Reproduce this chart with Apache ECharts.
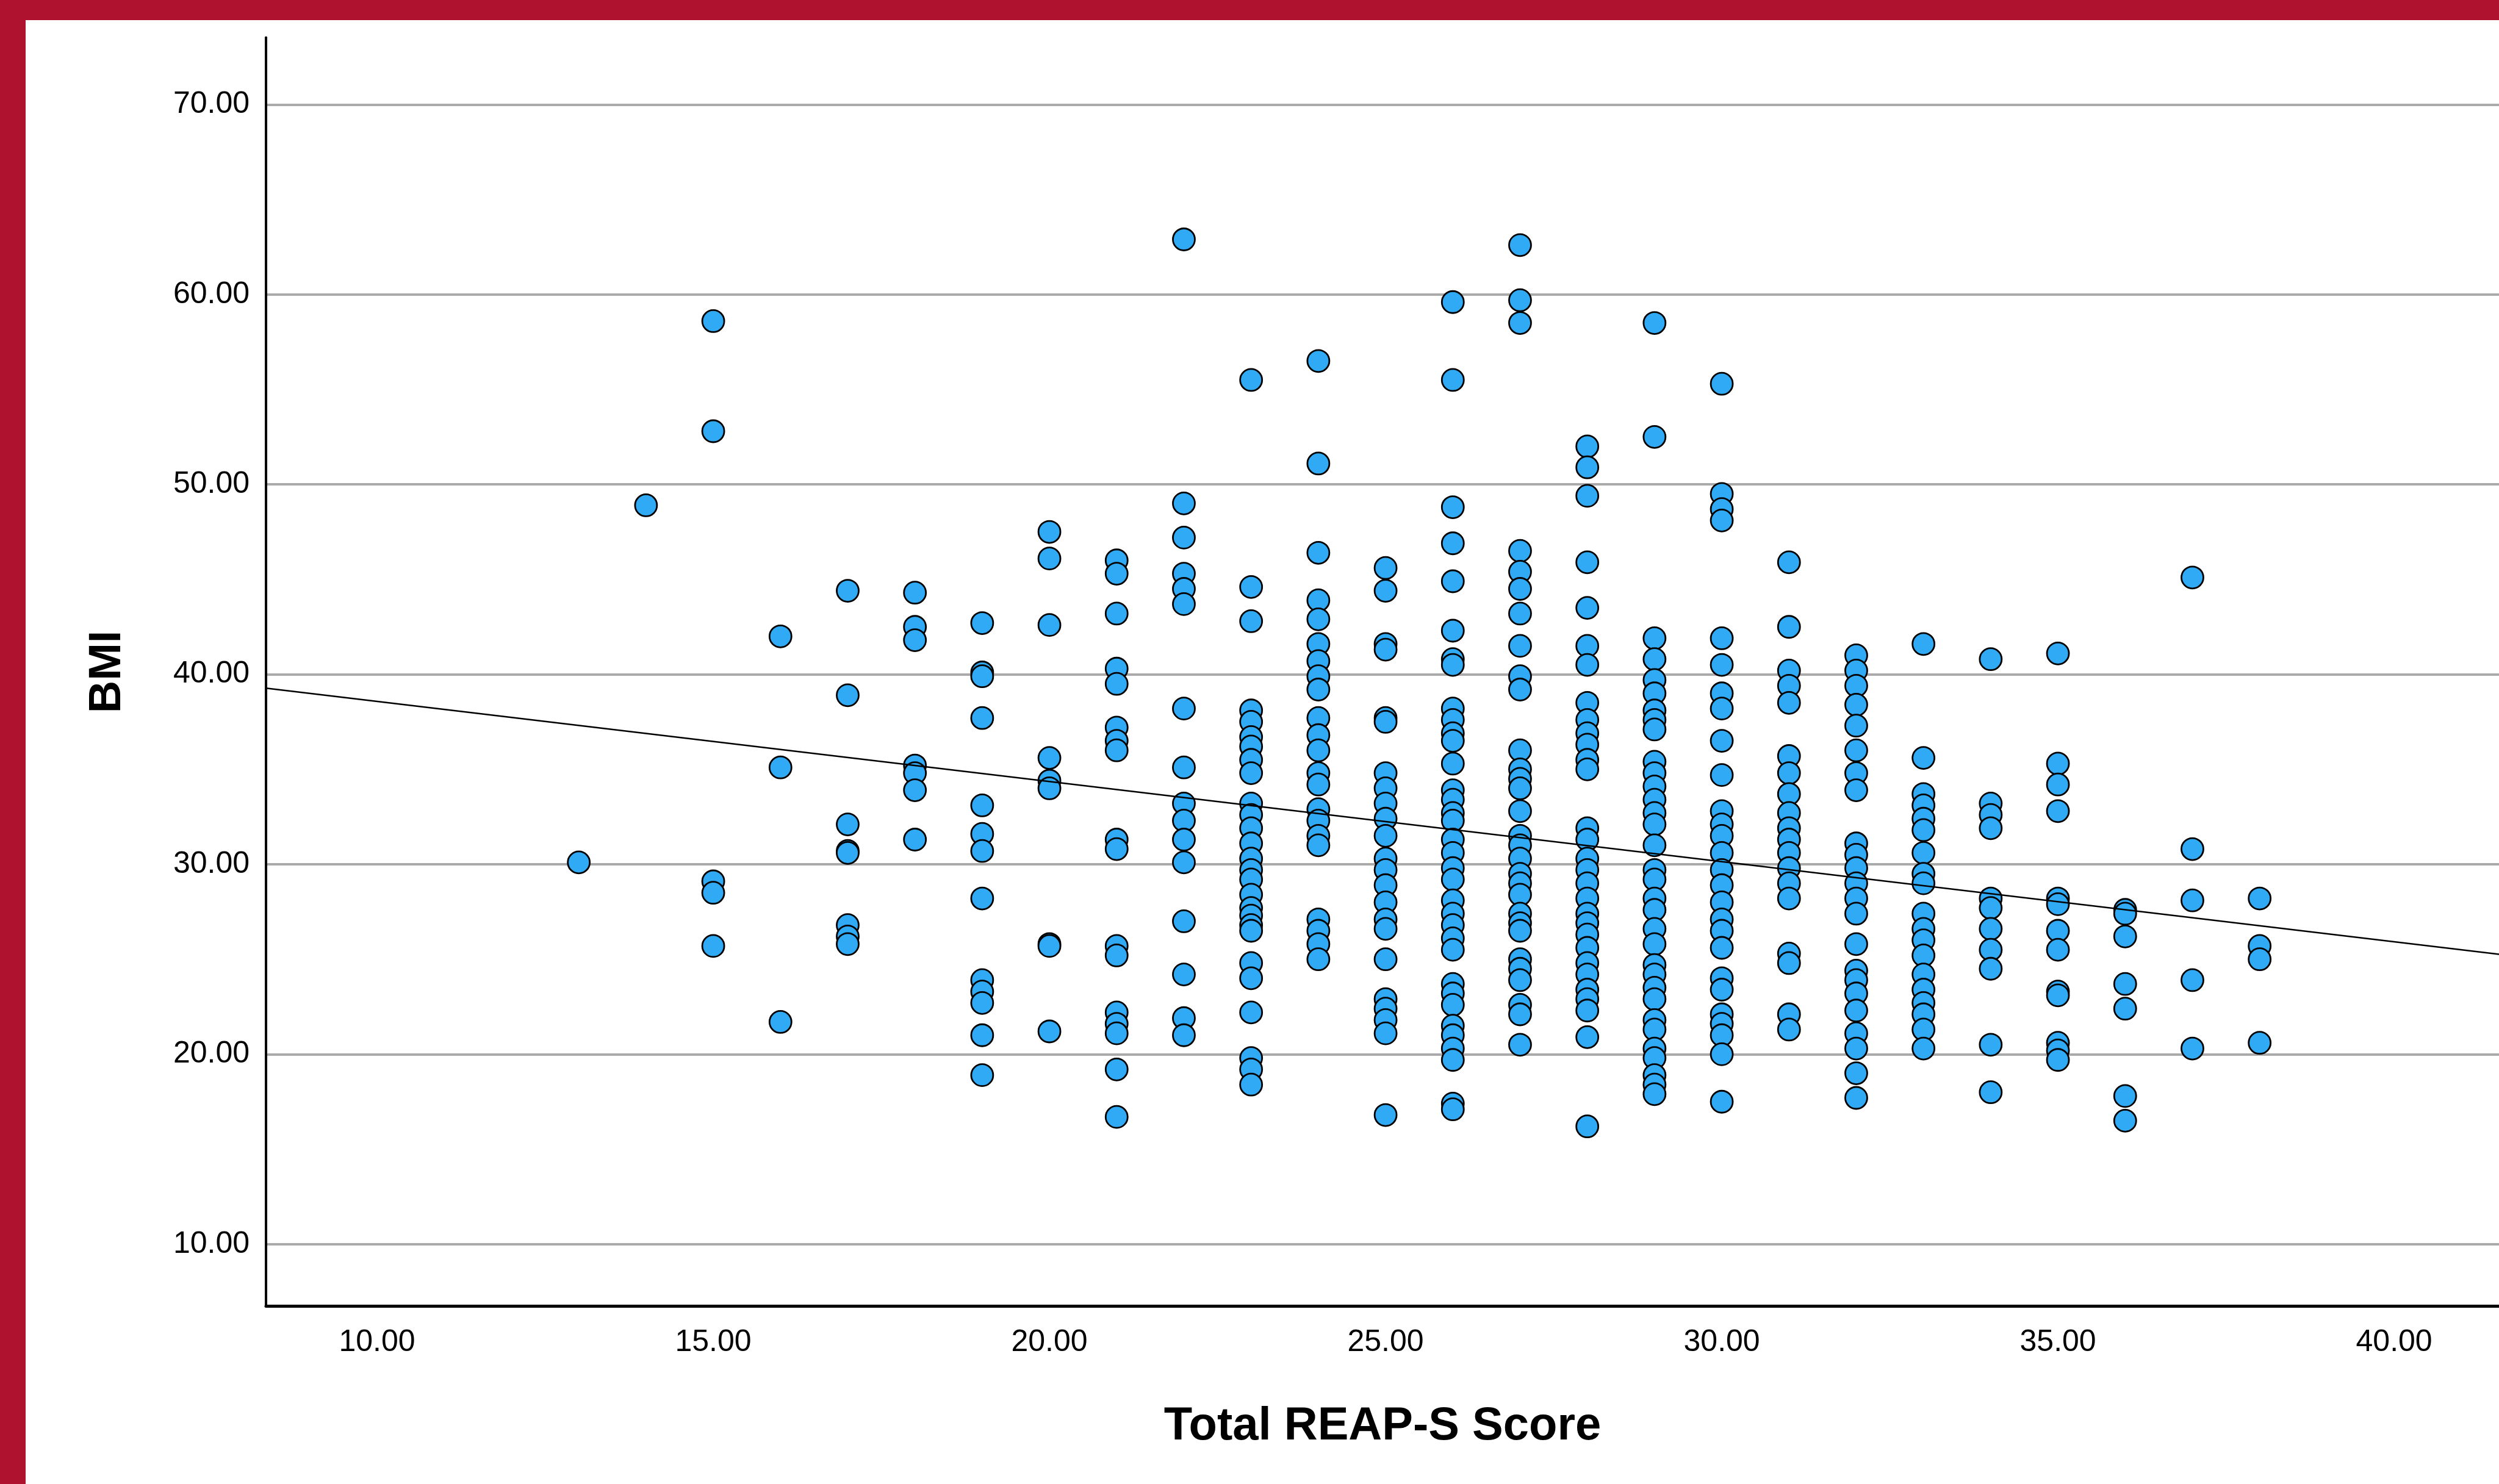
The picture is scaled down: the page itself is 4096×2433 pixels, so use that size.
<!DOCTYPE html>
<html>
<head>
<meta charset="utf-8">
<script src="https://cdn.jsdelivr.net/npm/echarts@6/dist/echarts.min.js"></script>
<style>
html,body{margin:0;padding:0;background:#fff;}
#chart{width:4096px;height:2433px;}
</style>
</head>
<body>
<div id="chart"></div>
<script>
// ---- data ----
const scores = [13,14,15,16,17,18,19,20,21,22,23,24,25,26,27,28,29,30,31,32,33,34,35,36,37,38];
const bmiByScore = [
  [30.1],
  [48.9],
  [58.6, 52.8, 29.1, 28.5, 25.7],
  [42.0, 35.1, 21.7],
  [44.4, 38.9, 32.1, 30.7, 30.6, 26.8, 26.2, 25.8],
  [44.3, 42.5, 41.8, 35.2, 34.8, 33.9, 31.3],
  [42.7, 40.1, 39.9, 37.7, 33.1, 31.6, 30.7, 28.2, 23.9, 23.3, 22.7, 21.0, 18.9],
  [47.5, 46.1, 42.6, 35.6, 34.4, 34.0, 25.8, 25.7, 21.2],
  [46.0, 45.3, 43.2, 40.3, 39.5, 37.2, 36.5, 36.0, 31.3, 30.8, 25.7, 25.2, 22.2, 21.6, 21.1, 19.2, 16.7],
  [62.9, 49.0, 47.2, 45.3, 44.5, 43.7, 38.2, 35.1, 33.2, 32.3, 31.3, 30.1, 27.0, 24.2, 21.9, 21.0],
  [55.5, 44.6, 42.8, 38.1, 37.5, 36.7, 36.2, 35.5, 34.8, 33.2, 32.6, 31.9, 31.1, 30.3, 29.7, 29.2, 28.4, 27.7, 27.3, 26.8, 26.5, 24.8, 24.0, 22.2, 19.8, 19.2, 18.4],
  [56.5, 51.1, 46.4, 43.9, 42.9, 41.6, 40.7, 39.9, 39.2, 37.7, 36.8, 36.0, 34.8, 34.2, 32.9, 32.3, 31.5, 31.0, 27.1, 26.5, 25.8, 25.0],
  [45.6, 44.4, 41.6, 41.3, 37.7, 37.5, 34.8, 34.0, 33.2, 32.4, 31.5, 30.3, 29.7, 28.9, 28.0, 27.1, 26.6, 25.0, 22.9, 22.4, 21.8, 21.1, 16.8],
  [59.6, 55.5, 48.8, 46.9, 44.9, 42.3, 40.8, 40.5, 38.2, 37.6, 36.9, 36.5, 35.3, 33.9, 33.4, 32.7, 32.3, 31.3, 30.6, 29.8, 29.2, 28.1, 27.4, 26.8, 26.1, 25.5, 23.7, 23.2, 22.6, 21.5, 21.0, 20.3, 19.7, 17.4, 17.1],
  [62.6, 59.7, 58.5, 46.5, 45.4, 44.5, 43.2, 41.5, 39.9, 39.2, 36.0, 35.0, 34.5, 34.0, 32.8, 31.5, 31.0, 30.3, 29.5, 29.0, 28.4, 27.4, 26.9, 26.5, 25.0, 24.5, 23.9, 22.6, 22.1, 20.5],
  [52.0, 50.9, 49.4, 45.9, 43.5, 41.5, 40.5, 38.5, 37.6, 36.9, 36.3, 35.5, 35.0, 31.9, 31.3, 30.3, 29.7, 29.0, 28.2, 27.4, 26.9, 26.3, 25.6, 24.8, 24.2, 23.4, 22.9, 22.3, 20.9, 16.2],
  [58.5, 52.5, 41.9, 40.8, 39.7, 39.0, 38.1, 37.6, 37.1, 35.4, 34.8, 34.1, 33.4, 32.7, 32.1, 31.0, 29.7, 29.2, 28.2, 27.6, 26.6, 25.8, 24.7, 24.2, 23.5, 22.9, 21.8, 21.3, 20.3, 19.8, 18.9, 18.4, 17.9],
  [55.3, 49.5, 48.7, 48.1, 41.9, 40.5, 39.0, 38.2, 36.5, 34.7, 32.8, 32.1, 31.5, 30.6, 29.7, 28.9, 28.0, 27.1, 26.5, 25.6, 24.0, 23.4, 22.1, 21.6, 21.0, 20.0, 17.5],
  [45.9, 42.5, 40.2, 39.4, 38.5, 35.7, 34.8, 33.7, 32.7, 31.9, 31.3, 30.6, 29.8, 29.0, 28.2, 25.3, 24.8, 22.1, 21.3],
  [41.0, 40.2, 39.4, 38.4, 37.3, 36.0, 34.8, 33.9, 31.1, 30.5, 29.8, 29.0, 28.2, 27.4, 25.8, 24.4, 23.9, 23.2, 22.3, 21.1, 20.3, 19.0, 17.7],
  [41.6, 35.6, 33.7, 33.1, 32.4, 31.8, 30.6, 29.5, 29.0, 27.4, 26.6, 26.0, 25.2, 24.2, 23.4, 22.7, 22.1, 21.3, 20.3],
  [40.8, 33.2, 32.6, 31.9, 28.2, 27.7, 26.6, 25.5, 24.5, 20.5, 18.0],
  [41.1, 35.3, 34.2, 32.8, 28.2, 27.9, 26.5, 25.5, 23.3, 23.1, 20.6, 20.2, 19.7],
  [27.6, 27.4, 26.2, 23.7, 22.4, 17.8, 16.5],
  [45.1, 30.8, 28.1, 23.9, 20.3],
  [28.2, 25.7, 25.0, 20.6]
];
// fit line endpoints (read at the plot edges)
const fitX = [8.348, 41.56];
const fitY = [39.27, 25.26];
// axis ticks
const xTicks = [10, 15, 20, 25, 30, 35, 40];
const yTicks = [10, 20, 30, 40, 50, 60, 70];
const xRange = [8.348, 41.56];
const yRange = [6.74, 73.53];

// ---- build chart ----
const points = [];
scores.forEach((s, i) => bmiByScore[i].forEach(v => points.push([s, v])));
const fitLine = fitX.map((x, i) => [x, fitY[i]]);

const FONT = "'Liberation Sans', Arial, sans-serif";
const chart = echarts.init(document.getElementById('chart'), null, {renderer: 'canvas'});
chart.setOption({
  animation: false,
  backgroundColor: '#ffffff',
  graphic: [
    {type: 'rect', left: 0, top: 0, shape: {width: 4096, height: 33}, style: {fill: '#AF122E'}, z: 100},
    {type: 'rect', left: 0, top: 0, shape: {width: 42, height: 2433}, style: {fill: '#AF122E'}, z: 100}
  ],
  grid: {left: 436, top: 61.5, right: 0, bottom: 291.7, containLabel: false},
  xAxis: {
    type: 'value',
    min: xRange[0], max: xRange[1],
    name: 'Total REAP-S Score',
    nameLocation: 'middle',
    nameGap: 160,
    nameTextStyle: {fontFamily: FONT, fontWeight: 'bold', fontSize: 76, color: '#000'},
    axisLine: {show: true, onZero: false, lineStyle: {color: '#000', width: 5}},
    axisTick: {show: false, customValues: xTicks},
    axisLabel: {customValues: xTicks, formatter: v => v.toFixed(2), fontFamily: FONT, fontSize: 50, color: '#000', margin: 35},
    splitLine: {show: false}
  },
  yAxis: {
    type: 'value',
    min: yRange[0], max: yRange[1],
    name: 'BMI',
    nameLocation: 'middle',
    nameRotate: 90,
    nameGap: 222,
    nameTextStyle: {fontFamily: FONT, fontWeight: 'bold', fontSize: 74, color: '#000'},
    axisLine: {show: true, onZero: false, lineStyle: {color: '#000', width: 4}},
    axisTick: {show: false, customValues: yTicks},
    axisLabel: {customValues: yTicks, formatter: v => v.toFixed(2), fontFamily: FONT, fontSize: 50, color: '#000', margin: 27, padding: [10, 0, 0, 0]},
    splitLine: {show: true, customValues: yTicks, lineStyle: {color: '#AAAAAA', width: 4}}
  },
  series: [
    {
      type: 'scatter',
      data: points,
      symbol: 'circle',
      symbolSize: 36,
      itemStyle: {color: '#30AAF5', borderColor: '#000', borderWidth: 2.8, opacity: 1},
      z: 2
    },
    {
      type: 'line',
      data: fitLine,
      showSymbol: false,
      symbol: 'none',
      lineStyle: {color: '#000', width: 2.5},
      z: 3
    }
  ]
});
</script>
</body>
</html>
